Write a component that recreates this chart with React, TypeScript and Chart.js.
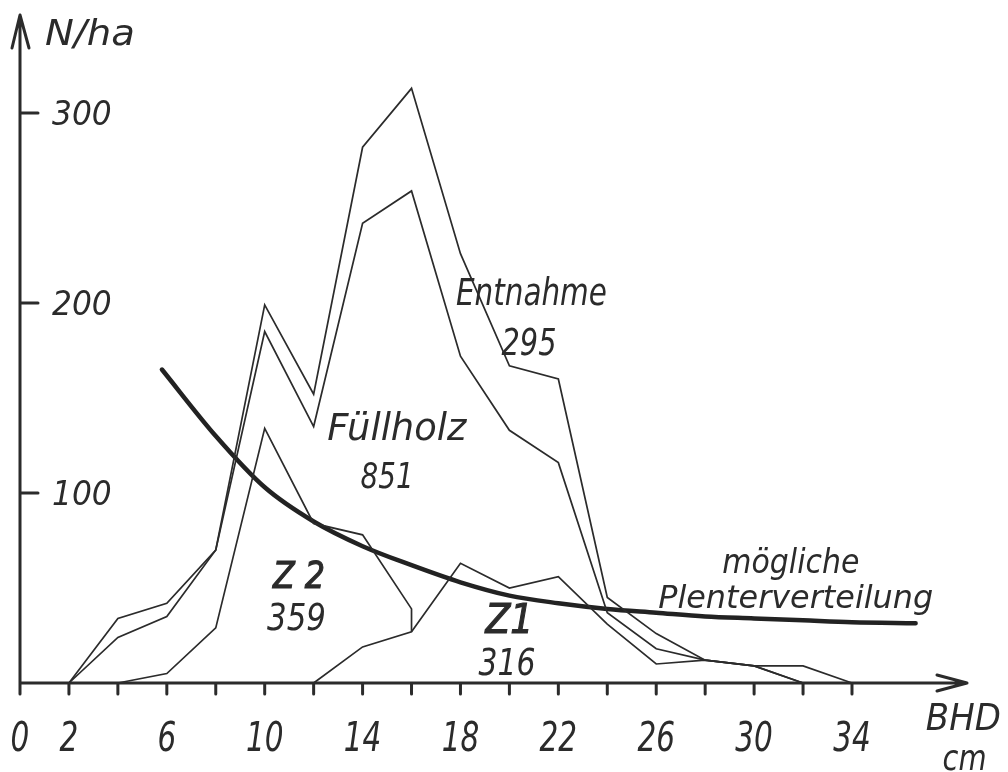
import React, { useEffect, useRef } from 'react';
import { Chart, registerables } from 'chart.js';

Chart.register(...registerables);

const INK = '#2b2b2b';
const FONT = '"DejaVu Sans", "Noto Sans", sans-serif';

// BHD classes (cm) and stacked N/ha outlines
const CLASS_X = [2, 4, 6, 8, 10, 12, 14, 16, 18, 20, 22, 24, 26, 28, 30, 32, 34];
const ENTNAHME_TOP = [0, 34, 42, 70, 199, 152, 282, 313, 226, 167, 160, 45, 26, 12, 9, 9, 0];
const FUELLHOLZ_TOP = [0, 24, 35, 70, 185, 135, 242, 259, 172, 133, 116, 37, 18, 12, 9, 0];
const Z2_X = [4, 6, 8, 10, 12, 14, 16, 16];
const Z2_TOP = [0, 5, 29, 134, 84, 78, 39, 27];
const Z1_X = [12, 14, 16, 18, 20, 22, 24, 26, 28, 30, 32];
const Z1_TOP = [0, 19, 27, 63, 50, 56, 31, 10, 12, 9, 0];

// "mögliche Plenterverteilung" curve
const PLENTER_X = [5.8, 8, 10, 12, 14, 16, 18, 20, 22, 24, 26, 28, 30, 32, 34, 36.6];
const PLENTER_N = [165, 130, 103, 85, 72, 62, 53, 46, 42, 39, 37, 35, 34, 33, 32, 31.5];

const X_TICKS = [0, 2, 4, 6, 8, 10, 12, 14, 16, 18, 20, 22, 24, 26, 28, 30, 32, 34];
const X_LABELS = [0, 2, 6, 10, 14, 18, 22, 26, 30, 34];
const Y_TICKS = [100, 200, 300];

// text placed in data units: x = BHD, y = N/ha of the baseline
const NOTES = [
  { text: 'Entnahme', x: 20.9, y: 199, size: 37, width: 151 },
  { text: '295', x: 20.8, y: 172.6, size: 37, width: 55 },
  { text: 'Füllholz', x: 15.4, y: 127.9, size: 37, width: 139 },
  { text: '851', x: 15.0, y: 102.6, size: 35, width: 53 },
  { text: 'Z 2', x: 11.4, y: 50, size: 38, width: 52, heavy: true },
  { text: '359', x: 11.3, y: 27.9, size: 37, width: 59 },
  { text: 'Z1', x: 20.0, y: 26.3, size: 41, width: 48, heavy: true },
  { text: '316', x: 19.9, y: 4.2, size: 37, width: 57 },
  { text: 'mögliche', x: 31.5, y: 57.9, size: 33, width: 137 },
  { text: 'Plenterverteilung', x: 31.7, y: 39.5, size: 32, width: 275 },
  { text: 'N/ha', x: 2.86, y: 335.8, size: 36, width: 90 },
  { text: 'BHD', x: 38.55, y: -24.7, size: 38, width: 75 },
  { text: 'cm', x: 38.6, y: -46, size: 36, width: 44 },
];

const pts = (xs: number[], ys: number[]) => ys.map((y, i) => ({ x: xs[i], y }));

function drawText(
  ctx: CanvasRenderingContext2D,
  text: string,
  x: number,
  y: number,
  size: number,
  opts: { width?: number; sx?: number; heavy?: boolean; align?: CanvasTextAlign }
) {
  ctx.save();
  ctx.font = `italic ${size}px ${FONT}`;
  const w = ctx.measureText(text).width;
  const sx = opts.width ? opts.width / w : opts.sx ?? 1;
  ctx.translate(x, y);
  ctx.scale(sx, 1);
  ctx.fillStyle = INK;
  ctx.textAlign = opts.align ?? 'center';
  ctx.textBaseline = 'alphabetic';
  ctx.fillText(text, 0, 0);
  if (opts.heavy) {
    // pen lettering of the Z labels is a bit heavier
    ctx.strokeStyle = INK;
    ctx.lineWidth = 1.2;
    ctx.strokeText(text, 0, 0);
  }
  ctx.restore();
}

const sketchPlugin = {
  id: 'sketch',
  beforeDraw(chart: Chart) {
    const { ctx, width, height } = chart;
    ctx.save();
    ctx.fillStyle = '#ffffff';
    ctx.fillRect(0, 0, width, height);
    ctx.restore();
  },
  afterDatasetsDraw(chart: Chart) {
    const { ctx, chartArea } = chart;
    const xs = chart.scales.x;
    const ys = chart.scales.y;
    const x0 = xs.getPixelForValue(0);
    const y0 = ys.getPixelForValue(0);
    const xEnd = chartArea.right;
    const yTop = chartArea.top;

    ctx.save();
    ctx.strokeStyle = INK;
    ctx.lineWidth = 3;
    ctx.lineCap = 'round';
    ctx.lineJoin = 'round';
    ctx.beginPath();
    // axes with arrow heads
    ctx.moveTo(x0, y0 + 11);
    ctx.lineTo(x0, yTop);
    ctx.moveTo(x0 - 8, yTop + 33);
    ctx.lineTo(x0, yTop);
    ctx.lineTo(x0 + 9, yTop + 33);
    ctx.moveTo(x0, y0);
    ctx.lineTo(xEnd, y0);
    ctx.moveTo(xEnd - 30, y0 - 8);
    ctx.lineTo(xEnd, y0);
    ctx.lineTo(xEnd - 30, y0 + 8);
    // ticks
    X_TICKS.forEach((t) => {
      const px = xs.getPixelForValue(t);
      ctx.moveTo(px, y0);
      ctx.lineTo(px, y0 + 11);
    });
    Y_TICKS.forEach((t) => {
      const py = ys.getPixelForValue(t);
      ctx.moveTo(x0, py);
      ctx.lineTo(x0 + 18, py);
    });
    ctx.stroke();
    ctx.restore();

    X_LABELS.forEach((t) => {
      drawText(ctx, String(t), xs.getPixelForValue(t), y0 + 68, 41, { sx: 0.72 });
    });
    Y_TICKS.forEach((t) => {
      drawText(ctx, String(t), x0 + 32, ys.getPixelForValue(t) + 12, 34, { sx: 0.92, align: 'left' });
    });
    NOTES.forEach((n) => {
      drawText(ctx, n.text, xs.getPixelForValue(n.x), ys.getPixelForValue(n.y), n.size, {
        width: n.width,
        heavy: n.heavy,
      });
    });
  },
};

const thin = {
  borderColor: INK,
  borderWidth: 1.7,
  pointRadius: 0,
  tension: 0,
  fill: false,
  clip: false as const,
  borderJoinStyle: 'miter' as const,
};

const App: React.FC = () => {
  const canvasRef = useRef<HTMLCanvasElement>(null);

  useEffect(() => {
    if (!canvasRef.current) return;
    const chart = new Chart(canvasRef.current, {
      type: 'line',
      data: {
        datasets: [
          { label: 'Entnahme', data: pts(CLASS_X, ENTNAHME_TOP), ...thin },
          { label: 'Füllholz', data: pts(CLASS_X, FUELLHOLZ_TOP), ...thin },
          { label: 'Z 2', data: pts(Z2_X, Z2_TOP), ...thin },
          { label: 'Z1', data: pts(Z1_X, Z1_TOP), ...thin },
          {
            label: 'mögliche Plenterverteilung',
            data: pts(PLENTER_X, PLENTER_N),
            borderColor: '#222',
            borderWidth: 4.5,
            pointRadius: 0,
            cubicInterpolationMode: 'monotone',
            fill: false,
            clip: false,
            borderCapStyle: 'round',
          },
        ],
      },
      options: {
        animation: false,
        responsive: true,
        maintainAspectRatio: false,
        layout: { padding: { left: 20, top: 15, right: 41, bottom: 89 } },
        scales: {
          x: { type: 'linear', min: 0, max: 38.7, display: false },
          y: { type: 'linear', min: 0, max: 351.6, display: false },
        },
        plugins: {
          legend: { display: false },
          tooltip: { enabled: false },
        },
        events: [],
      },
      plugins: [sketchPlugin],
    });
    return () => chart.destroy();
  }, []);

  return (
    <div style={{ position: 'absolute', left: 0, top: 0, width: 1008, height: 772, background: '#fff' }}>
      <canvas ref={canvasRef} />
    </div>
  );
};

export default App;
